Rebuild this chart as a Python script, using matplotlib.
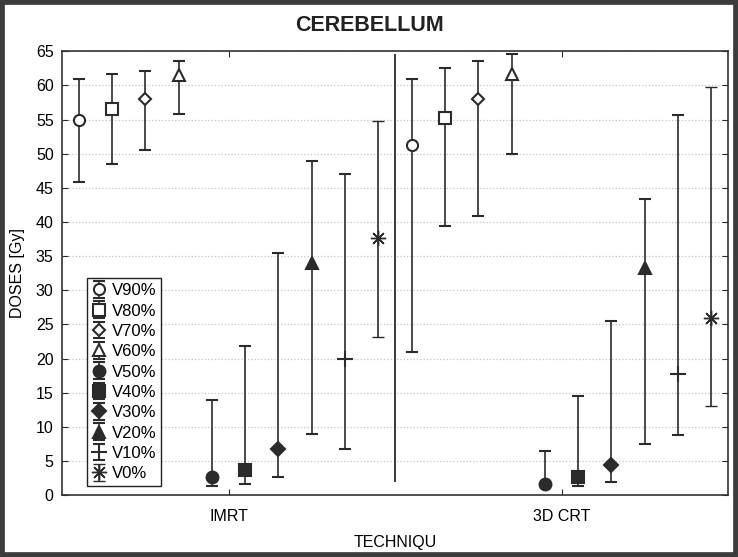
import matplotlib
matplotlib.use('Agg')
import matplotlib.pyplot as plt
from matplotlib.patches import Rectangle

plt.rcParams['font.family'] = ['Liberation Sans', 'DejaVu Sans']

# data (Gy)
techniques = ['IMRT', '3D CRT']
series = ['V90%', 'V80%', 'V70%', 'V60%', 'V50%', 'V40%', 'V30%', 'V20%', 'V10%', 'V0%']
mean_imrt = [54.9, 56.5, 58.0, 61.5, 2.6, 3.7, 6.7, 34.0, 20.0, 37.6]
low_imrt  = [45.9, 48.5, 50.5, 55.8, 1.3, 1.7, 2.6, 9.0, 6.7, 23.2]
high_imrt = [61.0, 61.7, 62.1, 63.5, 13.9, 21.9, 35.5, 48.9, 47.0, 54.8]
mean_3d = [51.2, 55.2, 58.0, 61.7, 1.7, 2.6, 4.4, 33.3, 17.7, 26.0]
low_3d  = [21.0, 39.4, 40.9, 49.9, 1.3, 1.4, 1.9, 7.5, 8.8, 13.1]
high_3d = [61.0, 62.5, 63.5, 64.6, 6.4, 14.5, 25.5, 43.4, 55.7, 59.8]
sep_line = (1.95, 64.6)

markers = ['o', 's', 'D', '^', 'o', 's', 'D', '^', '+', (8, 2, 0)]
filled = [False] * 4 + [True] * 6
msizes = [8, 8, 6.5, 8.5, 8.5, 8.5, 7, 9, 12, 11]
mews = [1.5] * 8 + [1.5, 1.0]
LC = '#2b2b2b'

fig = plt.figure(figsize=(7.38, 5.57), dpi=100)
ax = fig.add_axes([0.084, 0.111, 0.9025, 0.797])

for i, name in enumerate(series):
    off = -0.45 + 0.1 * i
    xs = [1 + off, 2 + off]
    ys = [mean_imrt[i], mean_3d[i]]
    lo = [mean_imrt[i] - low_imrt[i], mean_3d[i] - low_3d[i]]
    hi = [high_imrt[i] - mean_imrt[i], high_3d[i] - mean_3d[i]]
    ax.errorbar(xs, ys, yerr=[lo, hi], ls='none', marker=markers[i], ms=msizes[i],
                mfc=LC if filled[i] else 'white', mec=LC, mew=mews[i],
                ecolor=LC, elinewidth=1.2, capsize=4, capthick=1.2, label=name)

ax.vlines(1.5, sep_line[0], sep_line[1], color=LC, lw=1.3, zorder=2)

ax.set_xlim(0.5, 2.5)
ax.set_ylim(0, 65)
ax.set_yticks(range(0, 66, 5))
ax.set_xticks([1, 2])
ax.set_xticklabels(techniques)
ax.tick_params(direction='in', top=True, right=True, labelsize=11.5, length=4,
               color=LC, pad=6)
ax.tick_params(axis='x', pad=10)
ax.grid(axis='y', ls=':', color='#c4c4c4', lw=0.9)
ax.set_axisbelow(True)
for s in ax.spines.values():
    s.set_color('#333333')
    s.set_linewidth(1.2)

ax.set_ylabel('DOSES [Gy]', fontsize=11.5, labelpad=8)
ax.set_xlabel('TECHNIQU', fontsize=11.5, labelpad=8)
fig.text(0.5, 0.955, 'CEREBELLUM', ha='center', va='center', fontsize=15.5,
         fontweight='bold', color='#222222')

leg = ax.legend(loc='lower left', bbox_to_anchor=(0.037, 0.02), borderaxespad=0,
                fontsize=12, handlelength=0.9, handletextpad=0.3, labelspacing=0.32,
                borderpad=0.3, fancybox=False, edgecolor='#222222', framealpha=1)
leg.get_frame().set_linewidth(1.0)

fig.patches.append(Rectangle((0, 0), 1, 1, transform=fig.transFigure, fill=False,
                             ec='#3c3c3c', lw=7, zorder=10))

fig.savefig('out.png', dpi=100, facecolor='white')
